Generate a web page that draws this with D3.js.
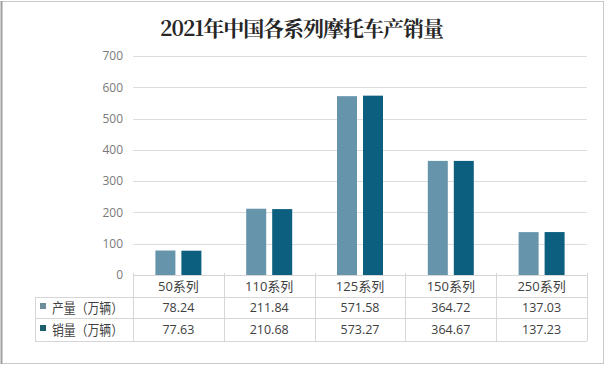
<!DOCTYPE html>
<html><head><meta charset="utf-8">
<script src="https://cdn.jsdelivr.net/npm/d3@7"></script>
<style>body{margin:0;background:#fff}svg{display:block}</style>
</head><body>
<script>
const title = "2021年中国各系列摩托车产销量";
const categories = ["50系列","110系列","125系列","150系列","250系列"];
const seriesNames = ["产量（万辆）","销量（万辆）"];
const production = [78.24, 211.84, 571.58, 364.72, 137.03];
const sales = [77.63, 210.68, 573.27, 364.67, 137.23];
const yTicks = [0,100,200,300,400,500,600,700];
const colors = ["#6594ab","#0d5f7f"];
const markerColors = ["#6e8e9c","#1c5e6b"];

(function(){
const W=606,H=367;
const svg=d3.select("body").append("svg").attr("width",W).attr("height",H);
svg.append("rect").attr("x",1.5).attr("y",1.5).attr("width",602).attr("height",362)
  .attr("fill","#fff").attr("stroke","#c8c8c8");
svg.append("line").attr("x1",1.5).attr("x2",1.5).attr("y1",1).attr("y2",364).attr("stroke","#a0a0a0").attr("stroke-width",2);

svg.append("text").attr("x",302).attr("y",36).attr("text-anchor","middle")
  .attr("font-family","'Noto Serif CJK SC','Noto Sans CJK SC',serif").attr("font-weight","bold")
  .attr("font-size",21).attr("fill","#262626").attr("textLength",284).attr("lengthAdjust","spacing").text(title);

const pl=133,pr=587,pt=56,pb=275;
const y=d3.scaleLinear().domain([0,700]).range([pb,pt]);
const x=d3.scaleBand().domain(categories).range([pl,pr]).paddingInner(0).paddingOuter(0);
const x1=d3.scaleBand().domain(seriesNames).range([0,x.bandwidth()]).paddingInner(0.2308).paddingOuter(0.862);

svg.append("g").selectAll("line").data(yTicks.filter(d=>d>0)).join("line")
  .attr("x1",pl).attr("x2",pr).attr("y1",d=>Math.round(y(d))+0.5).attr("y2",d=>Math.round(y(d))+0.5)
  .attr("stroke","#dcdcdc");
const yAxis=d3.axisLeft(y).tickValues(yTicks).tickSize(0).tickPadding(10);
const ga=svg.append("g").attr("transform",`translate(${pl},0)`).call(yAxis);
ga.select(".domain").remove();
ga.selectAll("text").attr("font-family","'Open Sans','Noto Sans',sans-serif").attr("font-size",12).attr("fill","#7a7a7a");

const data=categories.map((c,i)=>({c,vals:[production[i],sales[i]]}));
const gb=svg.append("g");
data.forEach(d=>{
  d.vals.forEach((v,j)=>{
    gb.append("rect").attr("x",x(d.c)+x1(seriesNames[j])).attr("width",x1.bandwidth())
      .attr("y",y(v)).attr("height",y(0)-y(v)).attr("fill",colors[j]);
  });
});

const rows=[275,297,318,341];
const legL=35;
const gt=svg.append("g").attr("stroke","#d6d6d6").attr("fill","none");
gt.append("line").attr("x1",pl).attr("x2",pr).attr("y1",rows[0]+0.5).attr("y2",rows[0]+0.5);
[1,2,3].forEach(k=>gt.append("line").attr("x1",legL).attr("x2",pr).attr("y1",rows[k]+0.5).attr("y2",rows[k]+0.5));
categories.forEach(c=>gt.append("line").attr("x1",Math.round(x(c))+0.5).attr("x2",Math.round(x(c))+0.5).attr("y1",rows[0]-2).attr("y2",rows[3]));
gt.append("line").attr("x1",pr+0.5).attr("x2",pr+0.5).attr("y1",rows[0]-2).attr("y2",rows[3]);
gt.append("line").attr("x1",legL+0.5).attr("x2",legL+0.5).attr("y1",rows[1]).attr("y2",rows[3]);

const tf="'Open Sans','Noto Sans CJK SC',sans-serif";
svg.append("g").selectAll("text").data(categories).join("text")
  .attr("x",d=>x(d)+x.bandwidth()/2).attr("y",(rows[0]+rows[1])/2+5).attr("text-anchor","middle")
  .attr("font-family",tf).attr("font-size",13).attr("fill","#404040").text(d=>d);
[production,sales].forEach((arr,j)=>{
  const cy=(rows[j+1]+rows[j+2])/2+4.5;
  svg.append("g").selectAll("text").data(arr).join("text")
    .attr("x",(d,i)=>x(categories[i])+x.bandwidth()/2).attr("y",cy).attr("text-anchor","middle")
    .attr("font-family","'Open Sans','Noto Sans',sans-serif").attr("font-size",12.5).attr("fill","#404040")
    .text(d=>d.toFixed(2));
  svg.append("rect").attr("x",40).attr("y",cy-9).attr("width",6).attr("height",6).attr("fill",markerColors[j]);
  svg.append("text").attr("x",52).attr("y",cy+0.5).attr("font-family","'Noto Sans CJK SC',sans-serif").attr("font-size",13.5)
    .attr("fill","#404040").attr("textLength",71).attr("lengthAdjust","spacingAndGlyphs").text(seriesNames[j]);
});
})();
</script>
</body></html>
